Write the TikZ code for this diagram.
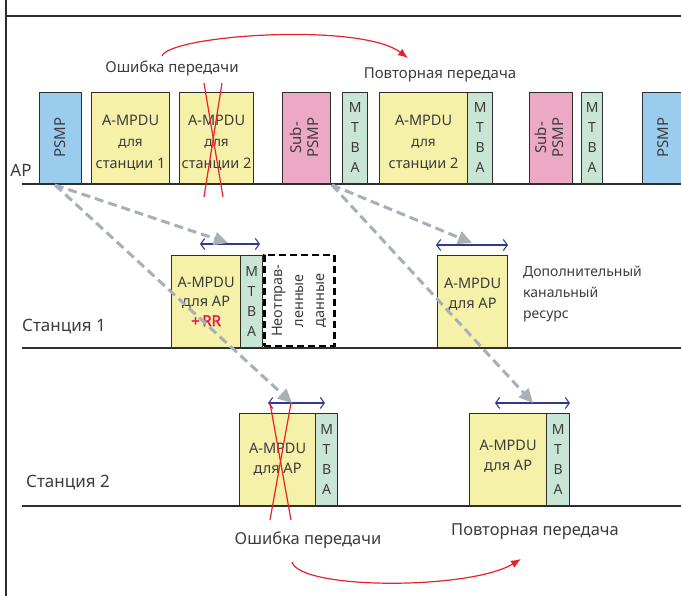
\documentclass[tikz,border=0pt]{standalone}
\usepackage{fontspec}
\setmainfont{Noto Sans}
\newfontfamily\rrfont{Noto Sans}[FakeBold=2.2]
\usetikzlibrary{arrows.meta}

\definecolor{psmpblue}{HTML}{9ACCEE}
\definecolor{ampduyellow}{HTML}{F6F1A9}
\definecolor{subpink}{HTML}{EDA8C5}
\definecolor{mtbagreen}{HTML}{C9E5D5}
\definecolor{linegray}{HTML}{2E2E2E}
\definecolor{textgray}{HTML}{3C3C3C}
\definecolor{arrowgray}{HTML}{A9AFB7}
\definecolor{arrowblue}{HTML}{2F3A8F}
\definecolor{errred}{HTML}{E8212B}
\definecolor{rrred}{HTML}{E5194F}

\newcommand{\fs}[2]{\fontsize{#1}{#2}\selectfont}
% extra head room above the first line of a box label
\newcommand{\headroom}{\rule{0pt}{20pt}}

\begin{document}
\begin{tikzpicture}[x=1pt,y=-1pt,
  blk/.style={draw=linegray, line width=1.2pt, inner sep=0pt, anchor=south west,
              text=textgray, align=center, font=\fs{14.5}{17}},
  ampdu/.style={blk, fill=ampduyellow},
  mtba/.style={blk, fill=mtbagreen, font=\fs{14}{20}},
  psmp/.style={blk, fill=psmpblue},
  subpsmp/.style={blk, fill=subpink},
  hold/.style={draw=black, line width=2.6pt, dash pattern=on 7pt off 4pt, inner sep=0pt,
               anchor=south west},
  timeline/.style={draw=linegray, line width=1.3pt},
  frame/.style={draw=linegray, line width=1.4pt},
  label/.style={text=textgray, inner sep=0pt},
  poll/.style={draw=arrowgray, line width=3pt, dash pattern=on 9pt off 5pt,
               -{Triangle[length=14pt,width=13pt]}},
  span/.style={draw=arrowblue, line width=1.1pt,
               {Straight Barb[length=4pt,width=11pt]}-{Straight Barb[length=4pt,width=11pt]}},
  cross/.style={draw=errred, line width=1.2pt},
  retry/.style={draw=errred, line width=1.2pt, -{Latex[length=10pt,width=8pt]}}
]
\useasboundingbox (0,0) rectangle (681,596);

% outer frame
\coordinate (fTop) at (6,0);
\coordinate (fBot) at (6,596);
\coordinate (fL) at (6,16);
\coordinate (fR) at (681,16);
\draw[frame] (fTop) -- (fBot);
\draw[frame] (fL) -- (fR);

% ---------- AP time line ----------
\node[psmp, minimum width=42pt, minimum height=91pt] (psmpA) at (39,184)
  {\rotatebox{90}{\fs{15}{17}PSMP}};
\node[ampdu, minimum width=78pt, minimum height=91pt] (apA) at (91,184)
  {\headroom A-MPDU\\[4pt]{\fs{13.5}{15}для}\\[5pt]станции 1};
\node[ampdu, minimum width=74pt, minimum height=91pt] (apB) at (179,184)
  {\headroom A-MPDU\\[4pt]{\fs{13.5}{15}для}\\[5pt]станции 2};
\node[subpsmp, minimum width=48pt, minimum height=91pt] (subA) at (282,184)
  {\rotatebox{90}{\fs{15}{18}\begin{tabular}{@{}c@{}}Sub-\\[-1pt]PSMP\end{tabular}}};
\node[mtba, minimum width=25pt, minimum height=91pt] (mA) at (342,184) {M\\T\\B\\A};
\node[ampdu, minimum width=88pt, minimum height=91pt] (apC) at (379,184)
  {\headroom A-MPDU\\[4pt]{\fs{13.5}{15}для}\\[5pt]станции 2};
\node[mtba, minimum width=25pt, minimum height=91pt] (mB) at (467,184) {M\\T\\B\\A};
\node[subpsmp, minimum width=43pt, minimum height=91pt] (subB) at (529,184)
  {\rotatebox{90}{\fs{15}{18}\begin{tabular}{@{}c@{}}Sub-\\[-1pt]PSMP\end{tabular}}};
\node[mtba, minimum width=21pt, minimum height=91pt] (mC) at (581,184) {M\\T\\B\\A};
\node[psmp, minimum width=41pt, minimum height=91pt] (psmpB) at (642,184)
  {\rotatebox{90}{\fs{15}{17}PSMP}};

\coordinate (apL) at (22,184);
\coordinate (apR) at (681,184);
\draw[timeline] (apL) -- (apR);
\node[label, font=\fs{17}{20}] (apText) at (21,170) {AP};

% ---------- station 1 ----------
\node[ampdu, minimum width=69pt, minimum height=92pt] (s1A) at (171,348)
  {A-MPDU\\[2pt]для AP\\[3pt]{\color{rrred}\rrfont\fs{15}{17}+\,RR}};
\node[mtba, minimum width=22pt, minimum height=92pt] (s1M) at (240,348) {M\\T\\B\\A};
\node[hold, minimum width=70pt, minimum height=91pt] (s1H) at (263,347.5) {};
\node[label, rotate=90, align=center, font=\fs{14.5}{21}]
  (s1HText) at (s1H.center) {Неотправ-\\ленные\\данные};
\node[ampdu, minimum width=70pt, minimum height=92pt] (s1B) at (437,348)
  {A-MPDU\\[3pt]для AP\\[-1pt]};

\coordinate (s1L) at (22,348);
\coordinate (s1R) at (681,348);
\draw[timeline] (s1L) -- (s1R);
\node[label, anchor=west, font=\fs{17}{20}] (s1Text) at (22,327) {Станция 1};
\node[label, anchor=north west, align=left, font=\fs{14}{21}] (extra) at (523,266)
  {Дополнительный\\канальный\\ресурс};

% ---------- station 2 ----------
\node[ampdu, minimum width=76pt, minimum height=92pt] (s2A) at (239,506)
  {A-MPDU\\[3pt]для AP};
\node[mtba, minimum width=22pt, minimum height=92pt] (s2M) at (315,506) {M\\T\\B\\A};
\node[ampdu, minimum width=77pt, minimum height=92pt] (s2B) at (469,506)
  {A-MPDU\\[3pt]для AP\\[-8pt]};
\node[mtba, minimum width=23pt, minimum height=92pt] (s2N) at (546,506) {M\\T\\B\\A};

\coordinate (s2L) at (22,506);
\coordinate (s2R) at (681,506);
\draw[timeline] (s2L) -- (s2R);
\node[label, anchor=west, font=\fs{17}{20}] (s2Text) at (26,483) {Станция 2};

% ---------- allotted intervals ----------
\coordinate (b1a) at (200,244); \coordinate (b1b) at (260,244);
\coordinate (b2a) at (436,245); \coordinate (b2b) at (508,245);
\coordinate (b3a) at (268,403); \coordinate (b3b) at (325,403);
\coordinate (b4a) at (495,403); \coordinate (b4b) at (570,403);
\draw[span] (b1a) -- (b1b);
\draw[span] (b2a) -- (b2b);
\draw[span] (b3a) -- (b3b);
\draw[span] (b4a) -- (b4b);

% ---------- polling arrows ----------
\coordinate (pollA) at (55,185);
\coordinate (pollB) at (332,185);
\coordinate (t1) at (228,243);
\coordinate (t2) at (472,243);
\coordinate (t3) at (292,403);
\coordinate (t4) at (533,403);
\draw[poll] (pollA) -- (t1);
\draw[poll] (pollA) -- (t3);
\draw[poll] (pollB) -- (t2);
\draw[poll] (pollB) -- (t4);

% ---------- transmission errors ----------
\coordinate (c1a) at (204,83);  \coordinate (c1b) at (223,197);
\coordinate (c1c) at (222,83);  \coordinate (c1d) at (204,197);
\draw[cross] (c1a) -- (c1b);
\draw[cross] (c1c) -- (c1d);
\coordinate (c2a) at (270,403); \coordinate (c2b) at (291,520);
\coordinate (c2c) at (291,403); \coordinate (c2d) at (270,520);
\draw[cross] (c2a) -- (c2b);
\draw[cross] (c2c) -- (c2d);

\node[label, font=\fs{15}{18}] (errTop) at (172,69) {Ошибка передачи};
\node[label, font=\fs{15}{18}] (retTop) at (440,75) {Повторная передача};
\node[label, font=\fs{16.5}{19}] (errBot) at (308,540) {Ошибка передачи};
\node[label, font=\fs{16.5}{19}] (retBot) at (535,532) {Повторная передача};

\coordinate (r1s) at (162,56);
\coordinate (r1e) at (408,58);
\draw[retry] (r1s) .. controls (170,35) and (360,22) .. (r1e);
\coordinate (r2s) at (292,562);
\coordinate (r2e) at (521,559);
\draw[retry] (r2s) .. controls (300,590) and (470,590) .. (r2e);

\end{tikzpicture}
\end{document}
